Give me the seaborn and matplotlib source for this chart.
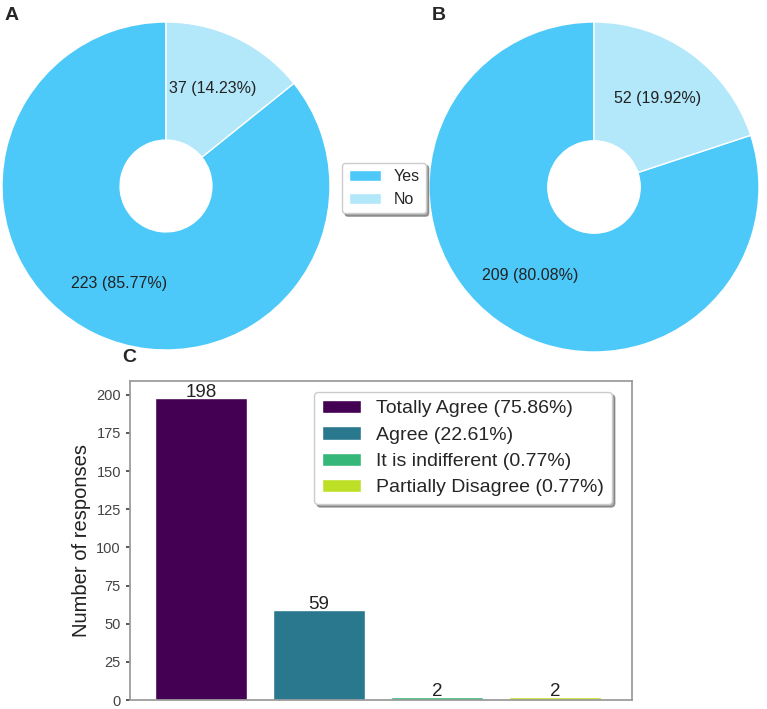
import seaborn as sns
import matplotlib.pyplot as plt
import pandas as pd

# data
pie_labels = ['Yes', 'No']
pie_a_counts = [223, 37]
pie_b_counts = [209, 52]
pie_colors = ['#4cc9f9', '#b3e7fa']

categories = ['Totally Agree', 'Agree', 'It is indifferent', 'Partially Disagree']
responses = [198, 59, 2, 2]
bar_colors = ['#440154', '#2a788e', '#35b779', '#bddf26']

sns.set_theme(style='white')
plt.rcParams['font.family'] = ['Liberation Sans', 'DejaVu Sans']

W, H = 767, 709
fig = plt.figure(figsize=(W / 100, H / 100), dpi=100)


def px_axes(left, top, right, bottom):
    return fig.add_axes([left / W, 1 - bottom / H, (right - left) / W, (bottom - top) / H])


def draw_donut(ax, counts):
    total = sum(counts)
    wedges, _, autotexts = ax.pie(
        counts, colors=pie_colors, startangle=90, counterclock=True,
        autopct=lambda p: f'{round(p * total / 100):d} ({p:.2f}%)',
        pctdistance=0.66, wedgeprops=dict(width=0.72, edgecolor='white', linewidth=1),
        textprops=dict(fontsize=11.5, color='#222222'))
    ax.set_xlim(-1, 1)
    ax.set_ylim(-1, 1)
    ax.set_aspect('equal')
    return wedges


ax_a = px_axes(2, 22, 330, 350)
wedges = draw_donut(ax_a, pie_a_counts)
ax_b = px_axes(429, 22, 759, 352)
draw_donut(ax_b, pie_b_counts)

fig.legend(wedges, pie_labels, loc='center', bbox_to_anchor=(384 / W, 1 - 188 / H),
           fontsize=11.5, frameon=True, shadow=True, fancybox=True, handlelength=2.0)

# bar chart C
ax_c = px_axes(130, 381, 632, 700)
df = pd.DataFrame({
    'category': categories,
    'responses': responses,
    'label': [f'{c} ({r / sum(responses) * 100:.2f}%)' for c, r in zip(categories, responses)],
})
sns.barplot(data=df, x='category', y='responses', hue='label', palette=bar_colors,
            saturation=1, width=0.78, edgecolor='white', linewidth=1, ax=ax_c, legend=True)
for cont in ax_c.containers:
    ax_c.bar_label(cont, fontsize=13.5, padding=-2, color='#222222')
ax_c.set_xlim(-0.6, 3.65)
ax_c.set_ylim(0, 209)
ax_c.set_xticks([])
ax_c.set_xlabel('')
ax_c.set_ylabel('Number of responses', fontsize=14.5, color='#222222', labelpad=4)
ax_c.set_yticks(range(0, 201, 25))
ax_c.tick_params(axis='y', left=True, length=3, labelsize=10.5, colors='#444444')
for s in ax_c.spines.values():
    s.set_color('#999999')
ax_c.legend(loc='upper right', bbox_to_anchor=(612 / W, 1 - 392 / H),
            bbox_transform=fig.transFigure, borderaxespad=0,
            fontsize=14, shadow=True, fancybox=True, frameon=True,
            handlelength=2.0, labelspacing=0.45)

fig.text(5 / W, 1 - 15 / H, 'A', fontsize=14, fontweight='bold', va='center')
fig.text(432 / W, 1 - 15 / H, 'B', fontsize=14, fontweight='bold', va='center')
fig.text(122 / W, 1 - 357 / H, 'C', fontsize=14, fontweight='bold', va='center')

fig.savefig('out.png', dpi=100)
